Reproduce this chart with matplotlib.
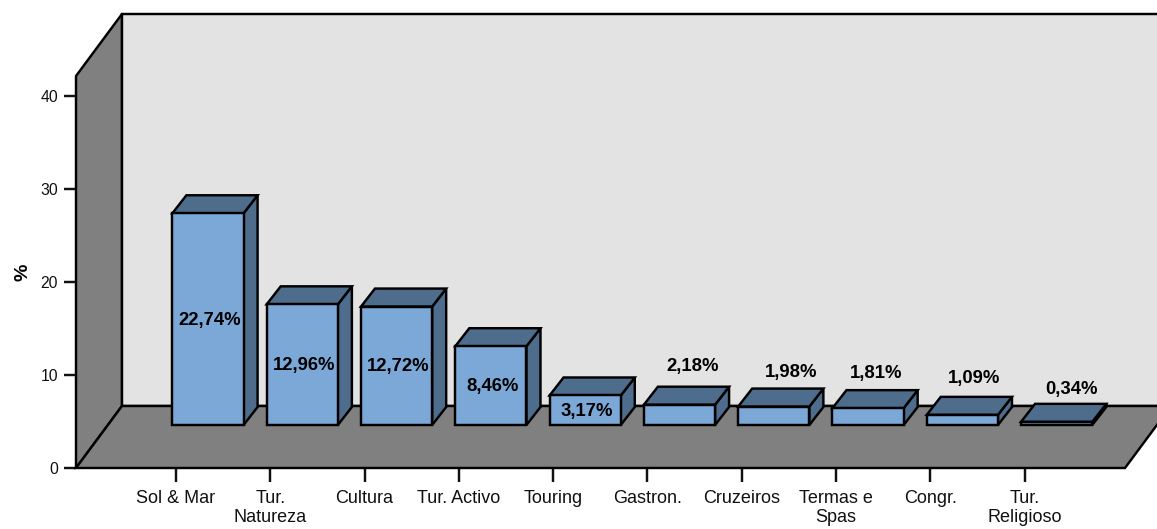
import matplotlib
matplotlib.use('Agg')
import matplotlib.pyplot as plt
from matplotlib.patches import Polygon
from matplotlib.transforms import IdentityTransform

plt.rcParams['font.family'] = ['Liberation Sans', 'DejaVu Sans']

categories = ['Sol & Mar', 'Tur.\nNatureza', 'Cultura', 'Tur. Activo', 'Touring',
              'Gastron.', 'Cruzeiros', 'Termas e\nSpas', 'Congr.', 'Tur.\nReligioso']
values = [22.74, 12.96, 12.72, 8.46, 3.17, 2.18, 1.98, 1.81, 1.09, 0.34]
y_ticks = [0, 10, 20, 30, 40]

# look of the fake 3d, all in pixels
wall_dx, wall_dy = 46, 62
bar_shift_x, bar_shift_y = 32, 43
bar_dx, bar_dy = 14, 18
bar_width = 0.755
# labels of the short bars sit above them: (x shift, gap above top)
label_above = {5: (13, 38), 6: (17, 34), 7: (8, 35), 8: (12, 36), 9: (15, 32)}

grey = '#808080'
wall = '#E3E3E3'
front = '#7BA8D6'
dark = '#4E6C8C'
lw = 1.75

W, H = 1157, 529
fig = plt.figure(figsize=(W / 100, H / 100), dpi=100)
ax = fig.add_axes([76 / W, (H - 468) / H, 1049 / W, 392 / H])
ax.set_xlim(-1.0604, 10.064)
ax.set_ylim(0, 42.1)
ax.patch.set_visible(False)
for s in ax.spines.values():
    s.set_visible(False)


def pos(x, y, dx=0, dy=0):
    px, py = ax.transData.transform((x, y))
    return px + dx, py + dy


def poly(points, color, z):
    p = Polygon(points, closed=True, facecolor=color, edgecolor='black', linewidth=lw,
                joinstyle='miter', transform=IdentityTransform(), clip_on=False, zorder=z)
    ax.add_patch(p)


x0, x1 = ax.get_xlim()
y0, y1 = ax.get_ylim()

# left wall, back wall, floor
poly([pos(x0, y0), pos(x0, y1), pos(x0, y1, wall_dx, wall_dy), pos(x0, y0, wall_dx, wall_dy)], grey, 1)
poly([pos(x0, y0, wall_dx, wall_dy), pos(x0, y1, wall_dx, wall_dy),
      pos(x1, y1, wall_dx, wall_dy), pos(x1, y0, wall_dx, wall_dy)], wall, 1)
poly([pos(x0, y0), pos(x1, y0), pos(x1, y0, wall_dx, wall_dy), pos(x0, y0, wall_dx, wall_dy)], grey, 2)

for i, v in enumerate(values):
    l = i - bar_width / 2
    r = i + bar_width / 2
    sx, sy = bar_shift_x, bar_shift_y
    z = 3 + i * 0.01
    poly([pos(r, 0, sx, sy), pos(r, v, sx, sy), pos(r, v, sx + bar_dx, sy + bar_dy),
          pos(r, 0, sx + bar_dx, sy + bar_dy)], dark, z)
    poly([pos(l, v, sx, sy), pos(r, v, sx, sy), pos(r, v, sx + bar_dx, sy + bar_dy),
          pos(l, v, sx + bar_dx, sy + bar_dy)], dark, z)
    poly([pos(l, 0, sx, sy), pos(r, 0, sx, sy), pos(r, v, sx, sy), pos(l, v, sx, sy)], front, z)

    txt = ('%.2f%%' % v).replace('.', ',')
    if i in label_above:
        tx, ty = pos(i, v, sx + label_above[i][0], sy + label_above[i][1])
    else:
        tx, ty = pos(i, v / 2, sx + 2, sy - 1)
    ax.text(tx, ty, txt, transform=IdentityTransform(), ha='center', va='center',
            fontsize=13.3, fontweight='bold', color='black', zorder=5)

ax.set_xticks(range(len(categories)))
ax.set_xticklabels(categories, fontsize=13, linespacing=1.12)
ax.set_yticks(y_ticks)
ax.tick_params(axis='x', length=10, width=lw, pad=6, color='#111111', labelcolor='#111111')
ax.tick_params(axis='y', length=8.5, width=lw, pad=4.5, color='#111111', labelcolor='#111111', labelsize=11.3)
ax.set_ylabel('%', fontsize=14, fontweight='bold')
ax.yaxis.set_label_coords((31 - 76) / 1049, (468 - 272) / 392)

fig.savefig('out.png', dpi=100)
